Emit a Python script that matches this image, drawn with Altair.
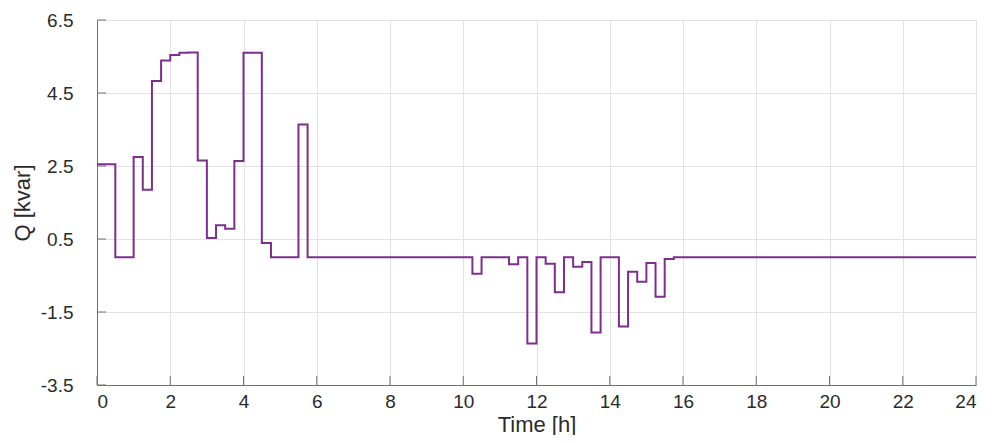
import altair as alt
import pandas as pd

# Step series (start time of each step in hours, reactive power in kvar)
times = [0, 0.5, 1.0, 1.25, 1.5, 1.75, 2.0, 2.25, 2.5, 2.75, 3.0, 3.25, 3.5, 3.75,
         4.0, 4.5, 4.75, 5.5, 5.75, 10.25, 10.5, 11.25, 11.5, 11.75, 12.0, 12.25,
         12.5, 12.75, 13.0, 13.25, 13.5, 13.75, 14.25, 14.5, 14.75, 15.0, 15.25,
         15.5, 15.75, 24]
q_values = [2.55, 0, 2.75, 1.85, 4.83, 5.39, 5.54, 5.60, 5.61, 2.65, 0.53, 0.88,
            0.78, 2.64, 5.60, 0.39, 0, 3.64, 0, -0.45, 0, -0.19, 0, -2.36, 0, -0.18,
            -0.96, 0, -0.26, -0.13, -2.06, 0, -1.90, -0.40, -0.67, -0.16, -1.08,
            -0.05, 0, 0]

x_ticks = list(range(0, 25, 2))
y_ticks = [-3.5, -1.5, 0.5, 2.5, 4.5, 6.5]

W, H = 879, 365
AXIS_COL = "#707070"
LABEL_COL = "#2b2b2b"
FONT = "Liberation Sans"

df = pd.DataFrame({"t": times, "q": q_values})
dfx = pd.DataFrame({"t": x_ticks})
dfy = pd.DataFrame({"q": y_ticks})

xscale = alt.Scale(domain=[0, 24], nice=False, zero=False)
yscale = alt.Scale(domain=[-3.5, 6.5], nice=False, zero=False)

lab = "datum.value < 0 ? '-' + format(-datum.value, '.1f') : format(datum.value, '.1f')"

line = alt.Chart(df).mark_line(interpolate="step-after", color="#7E2F8E", strokeWidth=2).encode(
    x=alt.X("t:Q", scale=xscale,
            axis=alt.Axis(values=x_ticks, title="Time [h]", ticks=False, labelPadding=7,
                          titleX=W / 2, titleY=46, titleBaseline="alphabetic",
                          titleAnchor="middle")),
    y=alt.Y("q:Q", scale=yscale,
            axis=alt.Axis(values=y_ticks, title="Q [kvar]", ticks=False, labelPadding=24,
                          labelExpr=lab, titleX=-63, titleY=H / 2,
                          titleAngle=-90, titleBaseline="bottom", titleAnchor="middle")),
)

xt = alt.Chart(dfx).mark_rule(color=AXIS_COL, strokeWidth=1).encode(
    x=alt.X("t:Q", scale=xscale), y=alt.value(H), y2=alt.value(H - 9))
yt = alt.Chart(dfy).mark_rule(color=AXIS_COL, strokeWidth=1).encode(
    y=alt.Y("q:Q", scale=yscale), x=alt.value(0), x2=alt.value(9))

chart = alt.layer(line, xt, yt).properties(
    width=W, height=H,
    autosize=alt.AutoSizeParams(type="none"),
    padding={"left": 89, "top": 12, "right": 10, "bottom": 50},
).configure_view(stroke=None).configure_axis(
    domainColor=AXIS_COL, domainWidth=1,
    gridColor="#e3e3e3", gridWidth=1,
    labelFont=FONT, labelFontSize=19, labelColor=LABEL_COL,
    titleFont=FONT, titleFontSize=22, titleColor=LABEL_COL, titleFontWeight="normal",
)

chart.save("out.html", embed_options={"renderer": "svg", "actions": False})
